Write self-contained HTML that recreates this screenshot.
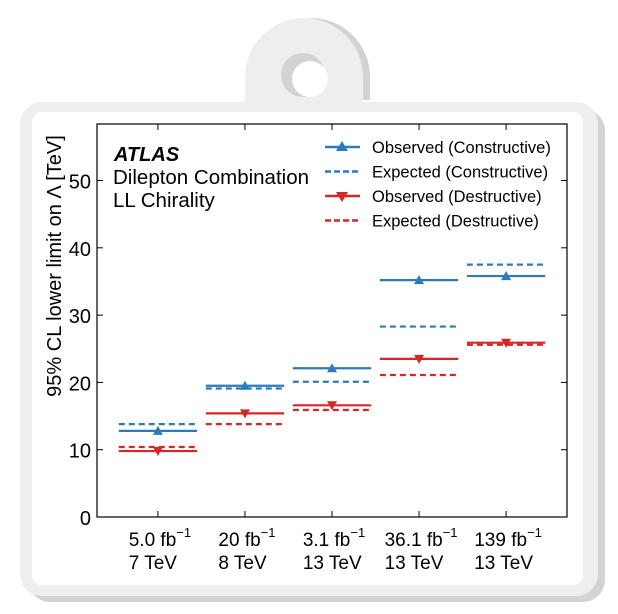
<!DOCTYPE html>
<html><head><meta charset="utf-8"><style>
body{margin:0;background:#fff;}
svg{display:block;font-family:"Liberation Sans",sans-serif;}
</style></head><body>
<svg id="chart" width="618" height="614" viewBox="0 0 618 614">
  <g>
    <path d="M252,100 L252,77 A59,59 0 0 1 370,77 L370,100 Z" fill="#d3d3d3"/>
    <rect x="28" y="109" width="577" height="493" rx="22" fill="#d3d3d3"/>
    <path d="M245,104 L245,77 A59,59 0 0 1 363,77 L363,104 Z" fill="#eeeeee"/>
    <rect x="20" y="102" width="578" height="494" rx="22" fill="#eeeeee"/>
    <circle cx="303" cy="75" r="22" fill="#d3d3d3"/>
    <circle cx="310" cy="79" r="18" fill="#ffffff"/>
    <rect x="32" y="112" width="551" height="473" rx="10" fill="#ffffff"/>
  </g>
  <g id="plot"></g>
</svg>
<script>
const categories = ["5.0 fb","20 fb","3.1 fb","36.1 fb","139 fb"];
const energies = ["7 TeV","8 TeV","13 TeV","13 TeV","13 TeV"];
const obsConstructive = [12.8, 19.5, 22.1, 35.2, 35.8];
const expConstructive = [13.8, 19.1, 20.1, 28.3, 37.5];
const obsDestructive = [9.8, 15.4, 16.6, 23.5, 25.9];
const expDestructive = [10.4, 13.8, 15.9, 21.1, 25.6];
const yTicks = [0, 10, 20, 30, 40, 50];

const NS = "http://www.w3.org/2000/svg";
const L = 97, R = 567, T = 124, B = 517;
const xMin = -0.7, xMax = 4.7, yMin = 0, yMax = 58.4;
const xs = v => L + (v - xMin) / (xMax - xMin) * (R - L);
const ys = v => B - (v - yMin) / (yMax - yMin) * (B - T);
const g = document.getElementById('plot');
function mk(tag, attrs, parent) {
  const e = document.createElementNS(NS, tag);
  for (const k in attrs) e.setAttribute(k, attrs[k]);
  (parent || g).appendChild(e);
  return e;
}
const BLUE = "#2b7bba", RED = "#d62728";
const hw = 0.45;

yTicks.forEach(v => {
  const t = mk('line', {x1: L, x2: L + 6, y1: ys(v), y2: ys(v), stroke: '#000', 'stroke-width': 1});
  
  
  const t2 = mk('line', {x1: R - 6, x2: R, y1: ys(v), y2: ys(v), stroke: '#000', 'stroke-width': 1});
  
  
  const lb = mk('text', {x: L - 6, y: ys(v) + 8, 'text-anchor': 'end', 'font-size': 20});
  lb.textContent = v;
  
  
});
categories.forEach((c, i) => {
  const x = xs(i);
  const t = mk('line', {x1: x, x2: x, y1: B - 6, y2: B, stroke: '#000'});
  
  
  const t2 = mk('line', {x1: x, x2: x, y1: T, y2: T + 6, stroke: '#000'});
  
  
  const lb = mk('text', {x: x + 2, y: B + 29, 'text-anchor': 'middle', 'font-size': 19});
  lb.textContent = c;
  const sup = mk('tspan', {dy: -9, 'font-size': 13}, lb);
  sup.textContent = "\u22121";
  
  
  let left = x - 33;
  try { left = lb.getBBox().x; } catch (err) {}
  const lb2 = mk('text', {x: left, y: B + 52, 'font-size': 19});
  lb2.textContent = energies[i];
  
  
});

function series(vals, color, dashed, marker, name) {
  vals.forEach((v, i) => {
    const ln = mk('line', {x1: xs(i - hw), x2: xs(i + hw), y1: ys(v), y2: ys(v), stroke: color, 'stroke-width': 2.2});
    if (dashed) ln.setAttribute('stroke-dasharray', '6,4');
    
    
    if (marker) {
      const x = xs(i), y = ys(v);
      const pts = marker === 'up' ? `${x-5},${y+4} ${x+5},${y+4} ${x},${y-5}` : `${x-5},${y-4} ${x+5},${y-4} ${x},${y+5}`;
      const m = mk('polygon', {points: pts, fill: color});
      
      
    }
  });
}
series(expConstructive, BLUE, true, null, 'expected-constructive');
series(obsConstructive, BLUE, false, 'up', 'observed-constructive');
series(expDestructive, RED, true, null, 'expected-destructive');
series(obsDestructive, RED, false, 'down', 'observed-destructive');

const frame = mk('rect', {x: L, y: T, width: R - L, height: B - T, fill: 'none', stroke: '#000', 'stroke-width': 1.2});



const yt = mk('text', {x: 0, y: 0, 'font-size': 20, transform: `translate(61,266) rotate(-90)`, 'text-anchor': 'middle'});
yt.textContent = "95% CL lower limit on \u039b [TeV]";



const a1 = mk('text', {x: 114, y: 161, 'font-size': 20, 'font-weight': 'bold', 'font-style': 'italic'});
a1.textContent = "ATLAS";


const a2 = mk('text', {x: 113, y: 184, 'font-size': 20.5});
a2.textContent = "Dilepton Combination";


const a3 = mk('text', {x: 113, y: 207, 'font-size': 20.5});
a3.textContent = "LL Chirality";



const legend = [
  ["Observed (Constructive)", BLUE, false, 'up'],
  ["Expected (Constructive)", BLUE, true, null],
  ["Observed (Destructive)", RED, false, 'down'],
  ["Expected (Destructive)", RED, true, null]
];
legend.forEach((e, i) => {
  const y = 147 + i * 24.5;
  const ln = mk('line', {x1: 325, x2: 360, y1: y, y2: y, stroke: e[1], 'stroke-width': 2.5});
  if (e[2]) ln.setAttribute('stroke-dasharray', '6,3');
  
  
  if (e[3]) {
    const x = 342;
    const pts = e[3] === 'up' ? `${x-6},${y+4} ${x+6},${y+4} ${x},${y-6}` : `${x-6},${y-4} ${x+6},${y-4} ${x},${y+6}`;
    const m = mk('polygon', {points: pts, fill: e[1]});
    
    
  }
  const t = mk('text', {x: 372, y: y + 6, 'font-size': 16.5});
  t.textContent = e[0];
  
  
});
</script>
</body></html>
